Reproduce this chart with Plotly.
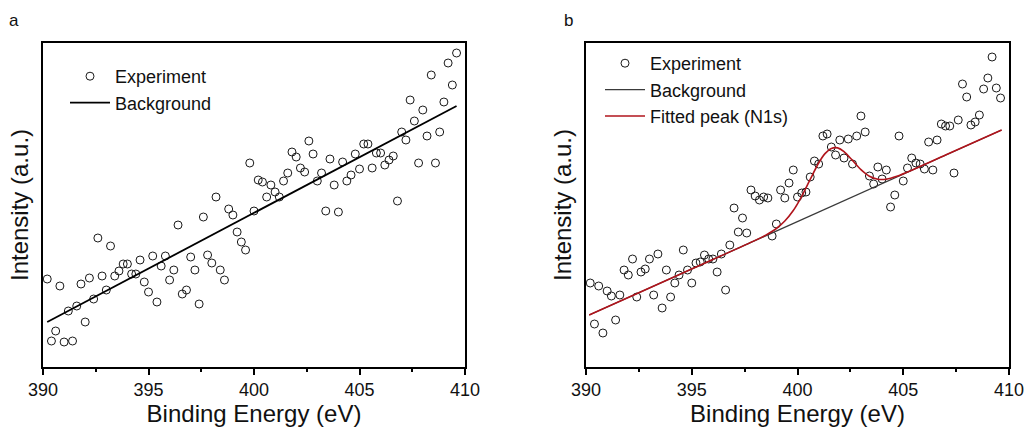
import plotly.graph_objects as go

# ---------------- data ----------------
energy = [390.2, 390.4, 390.6, 390.8, 391.0, 391.2, 391.4, 391.6, 391.8, 392.0,
          392.2, 392.4, 392.6, 392.8, 393.0, 393.2, 393.4, 393.6, 393.8, 394.0,
          394.2, 394.4, 394.6, 394.8, 395.0, 395.2, 395.4, 395.6, 395.8, 396.0,
          396.2, 396.4, 396.6, 396.8, 397.0, 397.2, 397.4, 397.6, 397.8, 398.0,
          398.2, 398.4, 398.6, 398.8, 399.0, 399.2, 399.4, 399.6, 399.8, 400.0,
          400.2, 400.4, 400.6, 400.8, 401.0, 401.2, 401.4, 401.6, 401.8, 402.0,
          402.2, 402.4, 402.6, 402.8, 403.0, 403.2, 403.4, 403.6, 403.8, 404.0,
          404.2, 404.4, 404.6, 404.8, 405.0, 405.2, 405.4, 405.6, 405.8, 406.0,
          406.2, 406.4, 406.6, 406.8, 407.0, 407.2, 407.4, 407.6, 407.8, 408.0,
          408.2, 408.4, 408.6, 408.8, 409.0, 409.2, 409.4, 409.6]

exp_a = [88, 26, 36, 81, 25, 56, 26, 61, 83, 45,
         89, 68, 129, 91, 77, 121, 91, 96, 103, 103,
         93, 93, 107, 85, 75, 111, 65, 101, 111, 87,
         97, 142, 73, 77, 110, 97, 63, 150, 112, 104,
         170, 97, 87, 158, 152, 135, 125, 117, 204, 156,
         187, 185, 170, 182, 175, 170, 186, 194, 215, 210,
         199, 195, 226, 213, 186, 194, 156, 208, 182, 155,
         205, 186, 192, 213, 198, 223, 223, 199, 214, 214,
         202, 207, 211, 166, 235, 227, 267, 246, 204, 257,
         231, 292, 204, 235, 265, 304, 282, 314]

bg_a_x = [390.2, 409.6]
bg_a_y = [45, 261]

exp_b = [84, 43, 81, 34, 76, 71, 47, 72, 97, 92,
         108, 70, 95, 98, 108, 72, 113, 59, 97, 70,
         84, 92, 117, 97, 84, 104, 105, 112, 108, 108,
         95, 113, 77, 122, 159, 135, 149, 134, 177, 171,
         167, 170, 169, 131, 143, 177, 169, 184, 197, 170,
         174, 175, 190, 206, 203, 231, 233, 220, 212, 227,
         209, 228, 203, 231, 251, 235, 191, 183, 200, 188,
         197, 160, 172, 231, 186, 199, 209, 204, 203, 198,
         225, 197, 227, 243, 241, 241, 194, 247, 283, 270,
         242, 245, 252, 278, 289, 310, 279, 269]

bg_b_x = [390.15, 409.65]
bg_b_y = [52, 237]

fit_x = [390.15, 394.0, 396.0, 398.0, 398.5, 399.0, 399.4, 399.8, 400.2, 400.6,
         401.0, 401.3, 401.6, 401.9, 402.2, 402.6, 403.0, 403.4, 403.8, 404.2,
         404.7, 405.4, 407.0, 409.65]
fit_y = [52, 88.5, 107.5, 126.6, 131.9, 138.5, 146.0, 156.5, 170.7, 187.6,
         204.0, 213.4, 218.6, 219.1, 215.4, 206.6, 197.3, 190.7, 187.7, 187.8,
         190.7, 196.7, 211.9, 237]

x_ticks = [390, 395, 400, 405, 410]
x_minor = [392.5, 397.5, 402.5, 407.5]

# ---------------- figure ----------------
W, H = 1029, 427
FONT = "Liberation Sans, Arial, sans-serif"

fig = go.Figure()
marker = dict(symbol="circle-open", size=8, color="#1a1a1a", line=dict(width=1))

fig.add_trace(go.Scatter(x=energy, y=exp_a, mode="markers", name="Experiment",
                         marker=marker, xaxis="x", yaxis="y", legend="legend"))
fig.add_trace(go.Scatter(x=bg_a_x, y=bg_a_y, mode="lines", name="Background",
                         line=dict(color="black", width=1.8), xaxis="x", yaxis="y",
                         legend="legend"))

fig.add_trace(go.Scatter(x=energy, y=exp_b, mode="markers", name="Experiment",
                         marker=marker, xaxis="x2", yaxis="y2", legend="legend2"))
fig.add_trace(go.Scatter(x=bg_b_x, y=bg_b_y, mode="lines", name="Background",
                         line=dict(color="#3a3a3a", width=1.3), xaxis="x2", yaxis="y2",
                         legend="legend2"))
fig.add_trace(go.Scatter(x=fit_x, y=fit_y, mode="lines", name="Fitted peak (N1s)",
                         line=dict(color="#b0141c", width=1.6, shape="spline", smoothing=0.8),
                         xaxis="x2", yaxis="y2", legend="legend2"))


def xax(domain, anchor):
    return dict(domain=domain, anchor=anchor, range=[390, 410], tickvals=x_ticks,
                ticks="outside", ticklen=6, tickwidth=1.5, tickcolor="black",
                showline=True, linewidth=1.5, linecolor="black", mirror=True,
                showgrid=False, zeroline=False, automargin=False,
                tickfont=dict(size=18, color="#111"),
                minor=dict(tickvals=x_minor, ticks="outside", ticklen=3,
                           tickwidth=1.5, tickcolor="black", showgrid=False),
                title=dict(text="Binding Energy (eV)", font=dict(size=24, color="#111"),
                           standoff=0))


def yax(domain, anchor):
    return dict(domain=domain, anchor=anchor, range=[0, 324], showticklabels=False,
                ticks="", showline=True, linewidth=1.5, linecolor="black", mirror=True,
                showgrid=False, zeroline=False, automargin=False,
                title=dict(text="Intensity (a.u.)", font=dict(size=24, color="#111"),
                           standoff=6))


ydom = [(H - 367) / H, (H - 43) / H]
fig.update_layout(
    width=W, height=H,
    margin=dict(l=0, r=0, t=0, b=0),
    paper_bgcolor="white", plot_bgcolor="white",
    font=dict(family=FONT, color="#111"),
    xaxis=xax([43 / W, 465 / W], "y"),
    yaxis=yax(ydom, "x"),
    xaxis2=xax([586 / W, 1009 / W], "y2"),
    yaxis2=yax(ydom, "x2"),
    legend=dict(x=65 / W, y=1 - 58 / H, xanchor="left", yanchor="top",
                bgcolor="rgba(0,0,0,0)", font=dict(size=18, color="#111"),
                itemwidth=40, tracegroupgap=0),
    legend2=dict(x=600 / W, y=1 - 45 / H, xanchor="left", yanchor="top",
                 bgcolor="rgba(0,0,0,0)", font=dict(size=18, color="#111"),
                 itemwidth=40, tracegroupgap=0),
    annotations=[
        dict(text="a", x=14 / W, y=1 - 20 / H, xref="paper", yref="paper",
             showarrow=False, font=dict(size=17, color="#111"), xanchor="center", yanchor="middle"),
        dict(text="b", x=568 / W, y=1 - 20 / H, xref="paper", yref="paper",
             showarrow=False, font=dict(size=17, color="#111"), xanchor="center", yanchor="middle"),
    ],
)

fig.write_html("out.html", config={"displayModeBar": False})
